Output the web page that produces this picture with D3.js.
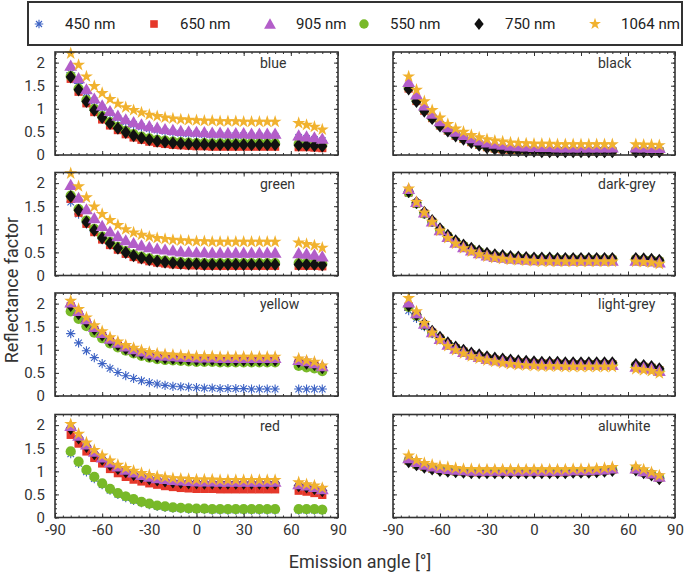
<!DOCTYPE html>
<html><head><meta charset="utf-8">
<script src="https://cdn.jsdelivr.net/npm/d3@7"></script>
<style>html,body{margin:0;padding:0;background:#fff}svg{display:block}</style>
</head><body>
<svg id="c" width="685" height="576"></svg>
<script>
// ---------- data ----------
const angles = [-80,-75,-70,-65,-60,-55,-50,-45,-40,-35,-30,-25,-20,-15,-10,-5,0,5,10,15,20,25,30,35,40,45,50,65,70,75,80];
const wavelengths = ["450 nm","650 nm","905 nm","550 nm","750 nm","1064 nm"];
const panelNames = ["blue","black","green","dark-grey","yellow","light-grey","red","aluwhite"];
const xTicks = [-90,-60,-30,0,30,60,90];
const yTicks = [0,0.5,1,1.5,2];

// blue
const blue450 = [1.78,1.55,1.35,1.17,1.02,0.90,0.80,0.72,0.66,0.61,0.57,0.54,0.51,0.49,0.47,0.46,0.45,0.44,0.43,0.43,0.42,0.42,0.42,0.41,0.41,0.41,0.41,0.38,0.36,0.34,0.31];
const blue650 = [1.65,1.37,1.12,0.93,0.77,0.64,0.54,0.45,0.38,0.33,0.29,0.26,0.24,0.22,0.21,0.20,0.19,0.19,0.18,0.18,0.18,0.18,0.18,0.18,0.18,0.18,0.18,0.17,0.17,0.16,0.15];
const blue905 = [1.93,1.66,1.42,1.22,1.07,0.95,0.85,0.77,0.71,0.66,0.62,0.59,0.56,0.54,0.52,0.51,0.50,0.49,0.48,0.48,0.47,0.47,0.47,0.46,0.46,0.46,0.46,0.42,0.40,0.38,0.35];
const blue550 = [1.71,1.44,1.19,1.00,0.84,0.71,0.61,0.52,0.45,0.40,0.36,0.33,0.31,0.29,0.28,0.27,0.26,0.26,0.25,0.25,0.25,0.25,0.25,0.25,0.25,0.25,0.25,0.24,0.24,0.23,0.22];
const blue750 = [1.69,1.41,1.16,0.97,0.81,0.68,0.58,0.49,0.42,0.37,0.33,0.30,0.28,0.26,0.25,0.24,0.23,0.23,0.22,0.22,0.22,0.22,0.22,0.22,0.22,0.22,0.22,0.21,0.21,0.20,0.19];
const blue1064 = [2.20,1.95,1.70,1.49,1.34,1.21,1.11,1.03,0.97,0.92,0.87,0.84,0.81,0.79,0.77,0.76,0.75,0.74,0.74,0.73,0.73,0.73,0.72,0.72,0.72,0.72,0.72,0.69,0.65,0.61,0.55];
// green
const green450 = [1.59,1.33,1.12,0.95,0.79,0.67,0.57,0.48,0.41,0.36,0.32,0.29,0.27,0.25,0.24,0.23,0.23,0.22,0.22,0.22,0.22,0.22,0.22,0.22,0.22,0.22,0.22,0.22,0.22,0.22,0.21];
const green650 = [1.66,1.36,1.12,0.94,0.78,0.66,0.56,0.47,0.40,0.35,0.31,0.28,0.26,0.24,0.23,0.22,0.22,0.21,0.21,0.21,0.21,0.21,0.21,0.21,0.21,0.21,0.21,0.21,0.21,0.21,0.20];
const green905 = [1.96,1.68,1.43,1.24,1.07,0.95,0.85,0.76,0.70,0.65,0.61,0.58,0.56,0.54,0.52,0.51,0.50,0.50,0.49,0.49,0.49,0.49,0.49,0.49,0.49,0.49,0.49,0.48,0.47,0.45,0.41];
const green550 = [1.73,1.44,1.19,1.01,0.84,0.73,0.62,0.53,0.46,0.41,0.37,0.34,0.32,0.30,0.29,0.28,0.28,0.27,0.27,0.27,0.27,0.27,0.27,0.27,0.27,0.27,0.27,0.27,0.27,0.27,0.26];
const green750 = [1.71,1.41,1.16,0.98,0.81,0.70,0.59,0.50,0.43,0.38,0.34,0.31,0.29,0.27,0.26,0.25,0.25,0.24,0.24,0.24,0.24,0.24,0.24,0.24,0.24,0.24,0.24,0.24,0.24,0.24,0.23];
const green1064 = [2.21,1.93,1.69,1.49,1.33,1.20,1.09,1.00,0.93,0.88,0.84,0.81,0.79,0.77,0.76,0.75,0.74,0.74,0.73,0.73,0.73,0.73,0.73,0.73,0.73,0.73,0.73,0.71,0.68,0.65,0.60];
// yellow
const yellow450 = [1.35,1.15,0.98,0.83,0.70,0.60,0.51,0.44,0.38,0.33,0.29,0.26,0.23,0.21,0.20,0.19,0.18,0.17,0.17,0.16,0.16,0.16,0.16,0.15,0.15,0.15,0.15,0.15,0.15,0.15,0.15];
const yellow650 = [1.94,1.76,1.59,1.43,1.30,1.18,1.09,1.01,0.95,0.90,0.86,0.83,0.81,0.80,0.79,0.78,0.77,0.77,0.77,0.76,0.76,0.76,0.76,0.76,0.76,0.76,0.76,0.72,0.69,0.66,0.59];
const yellow905 = [2.02,1.84,1.66,1.49,1.36,1.24,1.15,1.07,1.01,0.96,0.92,0.89,0.87,0.86,0.85,0.84,0.83,0.83,0.83,0.82,0.82,0.82,0.82,0.82,0.82,0.82,0.82,0.78,0.75,0.71,0.64];
const yellow550 = [1.83,1.67,1.51,1.37,1.25,1.14,1.05,0.98,0.92,0.87,0.83,0.80,0.78,0.77,0.76,0.75,0.74,0.74,0.74,0.73,0.73,0.73,0.73,0.73,0.73,0.73,0.73,0.65,0.62,0.60,0.54];
const yellow750 = [1.96,1.78,1.61,1.45,1.32,1.20,1.11,1.03,0.97,0.92,0.88,0.85,0.83,0.82,0.81,0.80,0.79,0.79,0.79,0.78,0.78,0.78,0.78,0.78,0.78,0.78,0.78,0.74,0.71,0.68,0.61];
const yellow1064 = [2.06,1.88,1.70,1.53,1.40,1.27,1.18,1.10,1.04,0.99,0.95,0.92,0.90,0.89,0.88,0.87,0.86,0.86,0.86,0.85,0.85,0.85,0.85,0.85,0.85,0.85,0.85,0.81,0.77,0.74,0.66];
// red
const red450 = [1.38,1.17,0.99,0.84,0.71,0.59,0.50,0.43,0.37,0.32,0.28,0.24,0.22,0.20,0.19,0.18,0.17,0.17,0.16,0.16,0.16,0.16,0.16,0.16,0.16,0.16,0.16,0.16,0.16,0.16,0.15];
const red650 = [1.79,1.60,1.43,1.29,1.17,1.05,0.96,0.88,0.82,0.78,0.74,0.71,0.68,0.66,0.64,0.63,0.62,0.62,0.62,0.61,0.61,0.61,0.61,0.61,0.61,0.61,0.61,0.58,0.56,0.53,0.49];
const red905 = [1.98,1.77,1.58,1.42,1.30,1.19,1.10,1.03,0.97,0.92,0.88,0.85,0.83,0.81,0.80,0.79,0.78,0.78,0.78,0.77,0.77,0.77,0.77,0.77,0.77,0.77,0.77,0.72,0.69,0.66,0.61];
const red550 = [1.43,1.21,1.03,0.88,0.74,0.62,0.53,0.46,0.40,0.34,0.30,0.26,0.24,0.22,0.21,0.20,0.19,0.19,0.18,0.18,0.18,0.18,0.18,0.18,0.18,0.18,0.18,0.18,0.18,0.18,0.17];
const red750 = [1.93,1.72,1.54,1.38,1.26,1.15,1.06,0.99,0.93,0.88,0.84,0.81,0.79,0.77,0.76,0.75,0.75,0.74,0.74,0.74,0.74,0.74,0.74,0.74,0.74,0.74,0.74,0.69,0.66,0.63,0.58];
const red1064 = [2.02,1.81,1.62,1.46,1.34,1.23,1.14,1.07,1.01,0.96,0.92,0.89,0.87,0.85,0.84,0.83,0.82,0.82,0.82,0.81,0.81,0.81,0.81,0.81,0.81,0.81,0.81,0.76,0.72,0.69,0.64];
// black
const black450 = [1.45,1.18,0.97,0.80,0.64,0.53,0.42,0.35,0.28,0.22,0.17,0.14,0.12,0.11,0.10,0.09,0.09,0.08,0.08,0.08,0.08,0.08,0.08,0.08,0.08,0.08,0.08,0.08,0.08,0.08,0.08];
const black650 = [1.44,1.17,0.96,0.80,0.64,0.53,0.42,0.35,0.28,0.22,0.17,0.14,0.12,0.11,0.10,0.09,0.09,0.08,0.08,0.08,0.08,0.08,0.08,0.08,0.08,0.08,0.08,0.08,0.08,0.08,0.08];
const black905 = [1.58,1.31,1.07,0.89,0.73,0.60,0.50,0.43,0.36,0.31,0.27,0.24,0.22,0.20,0.19,0.18,0.17,0.17,0.17,0.16,0.16,0.16,0.16,0.16,0.16,0.16,0.16,0.16,0.16,0.15,0.15];
const black550 = [1.46,1.19,0.98,0.81,0.65,0.54,0.43,0.36,0.29,0.23,0.18,0.15,0.13,0.12,0.11,0.10,0.10,0.09,0.09,0.09,0.09,0.09,0.09,0.09,0.09,0.09,0.09,0.09,0.09,0.09,0.09];
const black750 = [1.43,1.16,0.95,0.79,0.63,0.52,0.41,0.34,0.27,0.21,0.16,0.13,0.11,0.10,0.09,0.08,0.08,0.07,0.07,0.07,0.07,0.07,0.07,0.07,0.07,0.07,0.07,0.07,0.07,0.07,0.07];
const black1064 = [1.70,1.41,1.16,0.97,0.81,0.67,0.57,0.50,0.43,0.38,0.34,0.31,0.29,0.27,0.26,0.25,0.24,0.24,0.24,0.23,0.23,0.23,0.23,0.23,0.23,0.23,0.23,0.23,0.22,0.22,0.21];
// dark-grey
const darkgrey450 = [1.78,1.54,1.33,1.15,0.98,0.84,0.72,0.63,0.56,0.50,0.45,0.42,0.40,0.38,0.37,0.36,0.35,0.35,0.35,0.34,0.34,0.34,0.34,0.34,0.34,0.34,0.34,0.34,0.33,0.32,0.30];
const darkgrey650 = [1.80,1.56,1.34,1.16,0.98,0.84,0.72,0.63,0.56,0.50,0.45,0.42,0.40,0.38,0.37,0.36,0.35,0.35,0.35,0.34,0.34,0.34,0.34,0.34,0.34,0.34,0.34,0.34,0.33,0.32,0.30];
const darkgrey905 = [1.87,1.59,1.36,1.17,0.98,0.83,0.71,0.61,0.54,0.48,0.43,0.40,0.38,0.36,0.35,0.34,0.33,0.33,0.33,0.32,0.32,0.32,0.32,0.32,0.32,0.32,0.32,0.32,0.31,0.30,0.28];
const darkgrey550 = [1.80,1.56,1.34,1.16,0.99,0.85,0.73,0.64,0.57,0.51,0.46,0.43,0.41,0.39,0.38,0.37,0.36,0.36,0.36,0.35,0.35,0.35,0.35,0.35,0.35,0.35,0.35,0.35,0.34,0.33,0.31];
const darkgrey750 = [1.82,1.58,1.37,1.19,1.01,0.87,0.75,0.66,0.59,0.53,0.48,0.45,0.43,0.41,0.40,0.39,0.38,0.38,0.38,0.37,0.37,0.37,0.37,0.37,0.37,0.37,0.37,0.37,0.36,0.35,0.33];
const darkgrey1064 = [1.88,1.59,1.36,1.16,0.97,0.81,0.69,0.59,0.52,0.46,0.41,0.38,0.36,0.34,0.33,0.32,0.31,0.30,0.30,0.30,0.30,0.30,0.30,0.30,0.30,0.30,0.30,0.30,0.29,0.28,0.25];
// light-grey
const lightgrey450 = [1.85,1.68,1.50,1.35,1.22,1.11,1.02,0.95,0.89,0.85,0.81,0.78,0.76,0.74,0.72,0.71,0.70,0.69,0.69,0.69,0.68,0.68,0.68,0.68,0.68,0.68,0.68,0.64,0.62,0.60,0.55];
const lightgrey650 = [1.94,1.75,1.54,1.37,1.24,1.12,1.03,0.96,0.90,0.86,0.82,0.79,0.77,0.75,0.73,0.72,0.71,0.70,0.70,0.70,0.69,0.69,0.69,0.69,0.69,0.69,0.69,0.65,0.63,0.61,0.56];
const lightgrey905 = [2.02,1.79,1.56,1.38,1.23,1.11,1.02,0.95,0.89,0.84,0.80,0.77,0.75,0.73,0.71,0.70,0.69,0.68,0.68,0.68,0.67,0.67,0.67,0.67,0.67,0.67,0.67,0.63,0.61,0.59,0.54];
const lightgrey550 = [1.93,1.74,1.54,1.37,1.24,1.12,1.03,0.96,0.90,0.86,0.82,0.79,0.77,0.75,0.73,0.72,0.71,0.70,0.70,0.70,0.69,0.69,0.69,0.69,0.69,0.69,0.69,0.65,0.63,0.61,0.56];
const lightgrey750 = [1.96,1.76,1.56,1.40,1.27,1.15,1.06,0.99,0.93,0.89,0.85,0.82,0.80,0.78,0.76,0.75,0.74,0.73,0.73,0.73,0.72,0.72,0.72,0.72,0.72,0.72,0.72,0.68,0.66,0.64,0.59];
const lightgrey1064 = [2.12,1.83,1.58,1.37,1.21,1.08,0.99,0.92,0.86,0.81,0.77,0.74,0.71,0.69,0.67,0.66,0.65,0.64,0.64,0.64,0.63,0.63,0.63,0.63,0.63,0.63,0.63,0.58,0.56,0.54,0.49];
// aluwhite
const aluwhite450 = [1.22,1.14,1.09,1.05,1.02,1.00,0.99,0.98,0.97,0.97,0.97,0.97,0.97,0.97,0.97,0.97,0.97,0.97,0.97,0.97,0.97,0.98,0.98,0.98,0.99,1.00,1.02,1.03,0.97,0.92,0.85];
const aluwhite650 = [1.23,1.15,1.10,1.06,1.03,1.01,1.00,0.99,0.98,0.98,0.98,0.98,0.98,0.98,0.98,0.98,0.98,0.98,0.98,0.98,0.98,0.99,0.99,0.99,1.00,1.01,1.03,1.04,0.98,0.93,0.86];
const aluwhite905 = [1.28,1.20,1.14,1.10,1.07,1.05,1.03,1.02,1.01,1.01,1.01,1.01,1.01,1.01,1.01,1.01,1.01,1.01,1.01,1.01,1.01,1.02,1.02,1.02,1.03,1.04,1.06,1.06,1.00,0.95,0.88];
const aluwhite550 = [1.23,1.15,1.10,1.06,1.03,1.01,1.00,0.99,0.98,0.98,0.98,0.98,0.98,0.98,0.98,0.98,0.98,0.98,0.98,0.98,0.98,0.99,0.99,0.99,1.00,1.01,1.03,1.04,0.98,0.93,0.86];
const aluwhite750 = [1.21,1.14,1.09,1.05,1.02,1.00,0.99,0.98,0.97,0.97,0.97,0.97,0.97,0.97,0.97,0.97,0.97,0.97,0.97,0.97,0.97,0.98,0.98,0.98,0.99,1.00,1.02,1.03,0.97,0.92,0.84];
const aluwhite1064 = [1.34,1.24,1.18,1.14,1.11,1.09,1.07,1.05,1.05,1.04,1.04,1.04,1.04,1.04,1.04,1.04,1.04,1.04,1.04,1.04,1.04,1.05,1.05,1.05,1.06,1.07,1.09,1.10,1.04,0.98,0.91];

// table built from arrays (order = legend order)
const panelSeries = [
  [blue450, blue650, blue905, blue550, blue750, blue1064],
  [black450, black650, black905, black550, black750, black1064],
  [green450, green650, green905, green550, green750, green1064],
  [darkgrey450, darkgrey650, darkgrey905, darkgrey550, darkgrey750, darkgrey1064],
  [yellow450, yellow650, yellow905, yellow550, yellow750, yellow1064],
  [lightgrey450, lightgrey650, lightgrey905, lightgrey550, lightgrey750, lightgrey1064],
  [red450, red650, red905, red550, red750, red1064],
  [aluwhite450, aluwhite650, aluwhite905, aluwhite550, aluwhite750, aluwhite1064]
];
const drawOrder = [0, 1, 3, 4, 2, 5];

// ---------- styles ----------
const FONT = "Roboto, 'Noto Sans', sans-serif";
const colors = ["#3d63c4","#e5382a","#b35ec9","#78b928","#111111","#f1b22f"];
const asterisk = {
  draw(ctx, size) {
    const r = Math.sqrt(size) / 2;
    const d = r * Math.SQRT1_2;
    ctx.moveTo(-r, 0); ctx.lineTo(r, 0);
    ctx.moveTo(0, -r); ctx.lineTo(0, r);
    ctx.moveTo(-d, -d); ctx.lineTo(d, d);
    ctx.moveTo(-d, d); ctx.lineTo(d, -d);
  }
};
const wideDiamond = {
  draw(ctx, size) {
    const h = Math.sqrt(size) * 0.78, w = h * 0.78;
    ctx.moveTo(0, -h); ctx.lineTo(w, 0); ctx.lineTo(0, h); ctx.lineTo(-w, 0); ctx.closePath();
  }
};
const symTypes = [asterisk, d3.symbolSquare, d3.symbolTriangle, d3.symbolCircle, wideDiamond, d3.symbolStar];
const symSizes = [85, 68, 72, 82, 70, 52];
const symDy = [0, 0, 1.2, 0, 0, 0];

const svg = d3.select("#c");
const colX = [[55, 338], [393, 675]];
const rowTop = [52, 172.5, 293, 414.5];
const panelH = 103;

function drawMarker(g, k, x, y, scale) {
  const p = d3.symbol().type(symTypes[k]).size(symSizes[k] * (scale || 1))();
  const m = g.append("path").attr("d", p).attr("transform", `translate(${x},${y + symDy[k]})`);
  if (k === 0) m.attr("fill", "none").attr("stroke", colors[k]).attr("stroke-width", 1.1);
  else m.attr("fill", colors[k]);
  return m;
}

panelNames.forEach((name, i) => {
  const col = i % 2, row = Math.floor(i / 2);
  const [x0, x1] = colX[col];
  const y0 = rowTop[row], y1 = y0 + panelH;
  const x = d3.scaleLinear().domain([-90, 90]).range([x0, x1]);
  const y = d3.scaleLinear().domain([0, 2.23]).range([y1, y0]);
  const g = svg.append("g");

  // markers
  drawOrder.forEach(k => {
    const gs = g.append("g");
    panelSeries[i][k].forEach((v, j) => drawMarker(gs, k, x(angles[j]), y(v)));
  });

  // minor + major ticks on four sides
  const axStyle = sel => {
    sel.select(".domain").remove();
    sel.selectAll("line").attr("stroke", "#333").attr("stroke-width", 1);
    sel.selectAll("text").attr("font-family", FONT).attr("font-size", 15).attr("fill", "#333");
  };
  const minorX = d3.range(-90, 91, 5), minorY = d3.range(0, 2.21, 0.1);
  g.append("g").attr("transform", `translate(0,${y1})`)
    .call(d3.axisBottom(x).tickValues(minorX).tickSize(-2).tickFormat("")).call(axStyle);
  g.append("g").attr("transform", `translate(0,${y0})`)
    .call(d3.axisTop(x).tickValues(minorX).tickSize(-2).tickFormat("")).call(axStyle);
  g.append("g").attr("transform", `translate(${x0},0)`)
    .call(d3.axisLeft(y).tickValues(minorY).tickSize(-2).tickFormat("")).call(axStyle);
  g.append("g").attr("transform", `translate(${x1},0)`)
    .call(d3.axisRight(y).tickValues(minorY).tickSize(-2).tickFormat("")).call(axStyle);

  g.append("g").attr("transform", `translate(0,${y1})`)
    .call(d3.axisBottom(x).tickValues(xTicks).tickSize(-4).tickPadding(row === 3 ? 7 : 0)
      .tickFormat(row === 3 ? (d => d) : "")).call(axStyle);
  g.append("g").attr("transform", `translate(0,${y0})`)
    .call(d3.axisTop(x).tickValues(xTicks).tickSize(-4).tickFormat("")).call(axStyle);
  g.append("g").attr("transform", `translate(${x0},0)`)
    .call(d3.axisLeft(y).tickValues(yTicks).tickSize(-4).tickPadding(10)
      .tickFormat(col === 0 ? (d => d) : "")).call(axStyle);
  g.append("g").attr("transform", `translate(${x1},0)`)
    .call(d3.axisRight(y).tickValues(yTicks).tickSize(-4).tickFormat("")).call(axStyle);

  g.append("rect").attr("x", x0).attr("y", y0).attr("width", x1 - x0).attr("height", y1 - y0)
    .attr("fill", "none").attr("stroke", "#333").attr("stroke-width", 1.6);

  g.append("text").attr("x", x0 + 205).attr("y", y0 + 16).text(name)
    .attr("font-family", FONT).attr("font-size", 14).attr("fill", "#333");
});

// axis titles
svg.append("text").attr("x", 360).attr("y", 568).attr("text-anchor", "middle")
  .attr("font-family", FONT).attr("font-size", 18).attr("fill", "#333").text("Emission angle [°]");
svg.append("text").attr("transform", "translate(18,290) rotate(-90)").attr("text-anchor", "middle")
  .attr("font-family", FONT).attr("font-size", 18).attr("fill", "#333").text("Reflectance factor");

// legend
const lg = svg.append("g");
lg.append("rect").attr("x", 28).attr("y", 2).attr("width", 654).attr("height", 43)
  .attr("fill", "#fff").attr("stroke", "#333").attr("stroke-width", 2);
const legX = [39, 154, 270, 364, 479, 595];
wavelengths.forEach((w, k) => {
  drawMarker(lg, k, legX[k], 24, 0.85);
  lg.append("text").attr("x", legX[k] + 26).attr("y", 29).text(w)
    .attr("font-family", FONT).attr("font-size", 15).attr("fill", "#222");
});
</script>
</body></html>
